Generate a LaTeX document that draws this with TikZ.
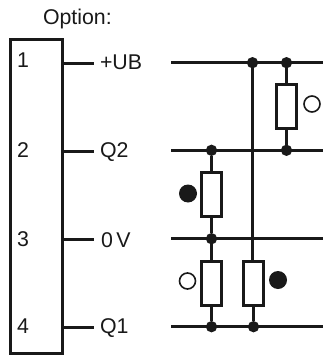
\documentclass[tikz,border=0pt]{standalone}
\usepackage{fontspec}
\setmainfont{Liberation Sans}
\usetikzlibrary{positioning}
\tikzset{font=\fontsize{16}{18}\selectfont}
\tikzset{every node/.append style={transform shape=false}}
\tikzset{wire/.style={line width=2pt}}
\tikzset{res/.style={draw,fill=white,line width=2pt,minimum width=15pt,minimum height=33pt,inner sep=0pt,outer sep=0pt}}
\tikzset{dot/.style={circle,fill=black!90,inner sep=0pt,minimum size=8.5pt,outer sep=0pt}}
\tikzset{lampon/.style={circle,fill=black!90,inner sep=0pt,minimum size=13.5pt,outer sep=0pt}}
\tikzset{lampoff/.style={circle,draw,line width=1.2pt,inner sep=0pt,minimum size=12pt,outer sep=0pt}}
\tikzset{txt/.style={anchor=base west,inner sep=0pt,outer sep=0pt}}
\begin{document}
\begin{tikzpicture}[x=.75pt,y=-.75pt,black!90]
\useasboundingbox (0,0) rectangle (323,356);
\node[txt] (option) at (43,25) {Option:};
\node[draw,line width=2.2pt,minimum width=39pt,minimum height=236pt,inner sep=0pt,outer sep=0pt] (box) at (36.5,196.5) {};
% pins and stubs
\foreach \n/\y/\b/\x in {1/63.5/68/17, 2/151.5/157/17, 3/239.5/246/17, 4/327.5/333/17} {
\node[txt] (pin\n) at (\x,\b) {\n};
\coordinate (stub\n) at (94,\y);
\draw[wire] (box.east |- stub\n) -- (stub\n);
}
\node[txt] (sig1) at (100,70) {+UB};
\node[txt] (sig2) at (100,157) {Q2};
\node[txt] (sig3) at (101,247) {0\,V};
\node[txt] (sig4) at (100,333) {Q1};
% buses
\foreach \n/\y in {1/62.7, 2/150.3, 3/238.7, 4/326.7} {
\coordinate (busl\n) at (171,\y);
\coordinate (busr\n) at (323,\y);
\draw[wire] (busl\n) -- (busr\n);
}
% junctions
\node[dot] (dotA) at (252.5,62.7) {};
\node[dot] (dotB) at (286.5,62.7) {};
\node[dot] (dotC) at (286.5,150.3) {};
\node[dot] (dotD) at (211.5,150.3) {};
\node[dot] (dotE) at (211.5,238.7) {};
\node[dot] (dotF) at (211.5,326.7) {};
\node[dot] (dotG) at (253.5,326.7) {};
% resistors
\node[res] (resA) at (286.5,106.5) {};
\node[res] (resB) at (211.5,194.5) {};
\node[res] (resC) at (211.5,283.5) {};
\node[res] (resD) at (253.5,283.5) {};
\draw[wire] (dotB) -- (resA.north);
\draw[wire] (dotC) -- (resA.south);
\draw[wire] (dotD) -- (resB.north);
\draw[wire] (dotE) -- (resB.south);
\draw[wire] (dotE) -- (resC.north);
\draw[wire] (dotF) -- (resC.south);
\draw[wire] (dotA) -- (dotA |- resD.north);
\draw[wire] (dotG) -- (resD.south);
% state marks
\node[lampoff] (markA) at (312,104) {};
\node[lampon] (markB) at (188,193.5) {};
\node[lampoff] (markC) at (187.5,281) {};
\node[lampon] (markD) at (278,280) {};
\end{tikzpicture}
\end{document}
